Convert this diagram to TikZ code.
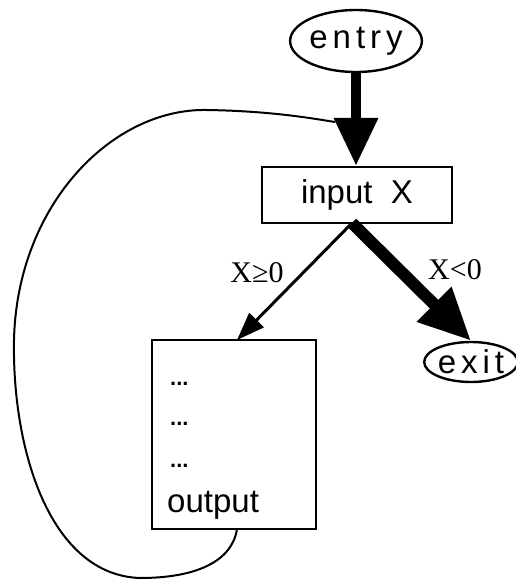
\documentclass[tikz,border=0pt]{standalone}
\usepackage{fontspec}
\setmainfont{Liberation Sans}
\newfontfamily\spacedfont[LetterSpace=15]{Liberation Sans}
\newfontfamily\labelfont{Liberation Serif}
\usetikzlibrary{shapes.geometric,arrows.meta}
\begin{document}
\begin{tikzpicture}[x=1pt,y=-1pt,
  oval/.style={ellipse,draw,line width=2.4pt,inner sep=0pt,font=\fontsize{33}{36}\selectfont\spacedfont},
  box/.style={rectangle,draw,line width=2.4pt,inner sep=0pt,font=\fontsize{33}{36}\selectfont},
  lbl/.style={font=\fontsize{30}{32}\selectfont\labelfont,inner sep=0pt},
  txt/.style={font=\fontsize{33}{36}\selectfont,inner sep=0pt,anchor=base west},
  dots/.style={font=\fontsize{22}{24}\selectfont\bfseries,inner sep=0pt,anchor=base west},
  thick arrow/.style={line width=12pt,-{Triangle[width=46pt,length=52pt]}},
  entry arrow/.style={line width=10pt,-{Triangle[width=42pt,length=48pt]}},
  thin arrow/.style={line width=3pt,-{Triangle[width=20pt,length=28pt]}},
  loop/.style={line width=2pt}]
\useasboundingbox (0,0) rectangle (515,581);
\node[oval,minimum width=124pt,minimum height=62pt] (entry) at (356,41) {entry};
\node[box,minimum width=190pt,minimum height=56pt] (input) at (357,195) {input\ \ X};
\node[box,minimum width=164pt,minimum height=189pt] (outbox) at (234,434.5) {};
\node[oval,minimum width=90pt,minimum height=40pt] (exit) at (471,362) {exit};
\node[dots] (d1) at (170,385) {...};
\node[dots] (d2) at (170,425) {...};
\node[dots] (d3) at (170,467) {...};
\node[txt] (out) at (167,512) {output};
\node[lbl] (lge) at (257,273) {X≥0};
\node[lbl] (llt) at (455,270) {X<0};
\coordinate (split) at (352,223);
\coordinate (loopstart) at (237,529);
\coordinate (loopend) at (335,122);
\draw[loop] (loopstart) .. controls (232,562) and (195,578) .. (140,578)
  .. controls (50,575) and (12,450) .. (14,340)
  .. controls (17,205) and (112,108) .. (207,110)
  .. controls (270,111) and (310,118) .. (loopend);
\draw[entry arrow] (entry.south) -- (entry.south |- input.north);
\draw[thin arrow] (split) -- (237,340);
\draw[thick arrow] (split) -- (exit.north);
\end{tikzpicture}
\end{document}
